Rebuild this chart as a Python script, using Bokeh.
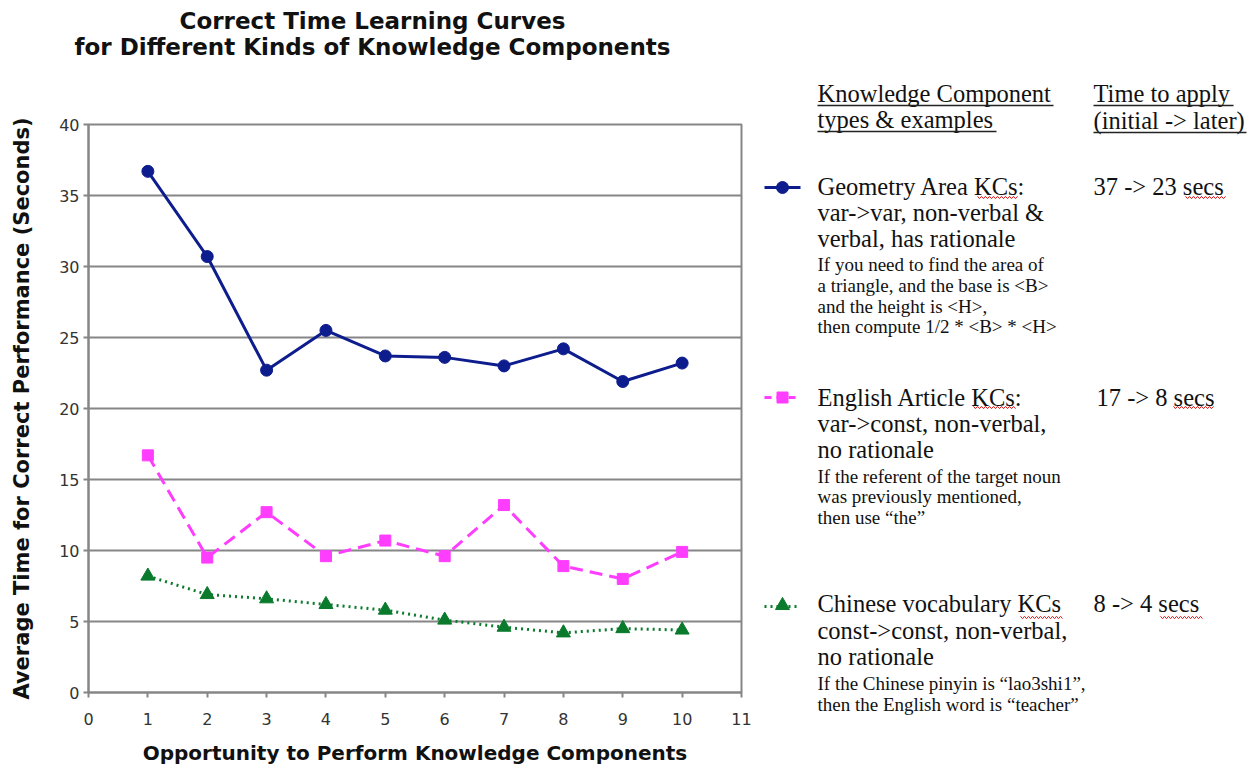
import numpy as np
from bokeh.plotting import figure
from bokeh.layouts import row, column
from bokeh.models import Range1d, FixedTicker
from bokeh.embed import file_html
from bokeh.resources import INLINE
from bokeh.core.properties import value

# ---------------- data ----------------
opportunity = [1, 2, 3, 4, 5, 6, 7, 8, 9, 10]
geometry_area = [36.7, 30.7, 22.7, 25.5, 23.7, 23.6, 23.0, 24.2, 21.9, 23.2]
english_article = [16.7, 9.5, 12.7, 9.6, 10.7, 9.6, 13.2, 8.9, 8.0, 9.9]
chinese_vocab = [8.2, 6.9, 6.6, 6.2, 5.8, 5.1, 4.6, 4.2, 4.5, 4.4]
x_ticks = list(range(0, 12))
y_ticks = list(range(0, 41, 5))

title_lines = ["Correct Time Learning Curves",
               "for Different Kinds of Knowledge Components"]
x_label = "Opportunity to Perform Knowledge Components"
y_label = "Average Time for Correct Performance (Seconds)"

BLUE = "#0d1d8d"
PINK = "#ff3dff"
GREEN = "#0a7a2c"
GRID = "#868686"


def blank_panel(w, h, x0, x1, y0, y1):
    f = figure(width=w, height=h, x_range=Range1d(x0, x1), y_range=Range1d(y1, y0),
               output_backend="svg", toolbar_location=None,
               min_border=0, min_border_left=0, min_border_right=0,
               min_border_top=0, min_border_bottom=0)
    f.axis.visible = False
    f.grid.visible = False
    f.outline_line_color = None
    f.frame_align = False
    return f


# ---------------- title strip ----------------
t = blank_panel(1257, 70, 0, 1257, 0, 70)
t.text(x=[372, 372], y=[20, 46], text=title_lines, text_align="center",
       text_baseline="middle", text_font=value("DejaVu Sans"),
       text_font_style="bold", text_font_size="23px", text_color="#111111")

# ---------------- chart ----------------
p = figure(width=760, height=697, x_range=Range1d(0, 11), y_range=Range1d(0, 40),
           output_backend="svg", toolbar_location=None,
           min_border_left=88, min_border_right=19, min_border_top=54, min_border_bottom=75)
p.frame_align = False
p.xgrid.visible = False
p.ygrid.grid_line_color = GRID
p.ygrid.grid_line_width = 2
p.outline_line_color = GRID
p.outline_line_width = 2
p.xaxis.ticker = FixedTicker(ticks=x_ticks)
p.yaxis.ticker = FixedTicker(ticks=y_ticks)
for ax in (p.xaxis[0], p.yaxis[0]):
    ax.axis_line_color = GRID
    ax.axis_line_width = 2
    ax.major_tick_line_color = GRID
    ax.major_tick_line_width = 2
    ax.major_tick_out = 5
    ax.major_tick_in = 0
    ax.minor_tick_line_color = None
    ax.major_label_text_font = "DejaVu Sans"
    ax.major_label_text_font_size = "16px"
    ax.major_label_text_color = "#333333"
    ax.axis_label_text_font = "DejaVu Sans"
    ax.axis_label_text_font_style = "bold"
    ax.axis_label_text_color = "#111111"
p.xaxis.axis_label = x_label
p.yaxis.axis_label = y_label
p.xaxis.axis_label_text_font_size = "20px"
p.yaxis.axis_label_text_font_size = "21px"
p.xaxis.major_label_standoff = 15
p.xaxis.axis_label_standoff = 13
p.yaxis.major_label_standoff = 4
p.yaxis.axis_label_standoff = 22

p.line(opportunity, geometry_area, color=BLUE, line_width=3)
p.scatter(opportunity, geometry_area, marker="circle", size=12, color=BLUE)
p.line(opportunity, english_article, color=PINK, line_width=3, line_dash="13 7")
p.scatter(opportunity, english_article, marker="square", size=11, color=PINK)
p.line(opportunity, chinese_vocab, color=GREEN, line_width=3, line_dash="2 4")
p.scatter(opportunity, chinese_vocab, marker="triangle", size=14, color=GREEN)

# ---------------- legend / description panel ----------------
q = blank_panel(490, 697, 760, 1250, 70, 767)

SERIF = value("Liberation Serif")
big = [
    (817, 93, "Knowledge Component"),
    (817, 119, "types  & examples"),
    (1093, 93, "Time  to apply"),
    (1093, 120, "(initial -> later)"),
    (817, 186, "Geometry Area KCs:"),
    (817, 212, "var->var, non-verbal &"),
    (817, 238, "verbal, has  rationale"),
    (1093, 186, "37 -> 23 secs"),
    (817, 397, "English Article KCs:"),
    (817, 423, "var->const, non-verbal,"),
    (817, 449, "no rationale"),
    (1096, 397, "17 -> 8 secs"),
    (817, 603, "Chinese vocabulary KCs"),
    (817, 630, "const->const, non-verbal,"),
    (817, 656, "no rationale"),
    (1093, 603, "8 -> 4 secs"),
]
small = [
    (817, 264, "If you need to find the area of"),
    (817, 285, "a triangle, and the base is <B>"),
    (817, 306, "and the height is <H>,"),
    (817, 326, "then compute 1/2 * <B> * <H>"),
    (817, 476, "If the referent of the target noun"),
    (817, 496, "was previously mentioned,"),
    (817, 517, "then use  \u201cthe\u201d"),
    (817, 683, "If the Chinese pinyin is  \u201clao3shi1\u201d,"),
    (817, 704, "then the English word is  \u201cteacher\u201d"),
]
q.text(x=[b[0] for b in big], y=[b[1] for b in big], text=[b[2] for b in big],
       text_font=SERIF, text_font_size="24.5px", text_baseline="middle",
       text_align="left", text_color="#111111")
q.text(x=[s[0] for s in small], y=[s[1] for s in small], text=[s[2] for s in small],
       text_font=SERIF, text_font_size="19px", text_baseline="middle",
       text_align="left", text_color="#111111")

# header underlines
q.segment(x0=[817, 817, 1093, 1093], y0=[105, 131, 105, 132],
          x1=[1053, 996, 1233, 1246], y1=[105, 131, 105, 132],
          line_color="#222222", line_width=1.5)

# spell-check squiggles under "KCs" and "secs"
squiggles = [(977, 1017, 197), (1185, 1225, 197), (973, 1016, 407),
             (1173, 1213, 407), (1020, 1062, 617), (1160, 1202, 617)]
for xa, xb, yy in squiggles:
    xs = np.arange(xa, xb + 0.1, 2.0)
    ys = yy + np.where(np.arange(len(xs)) % 2 == 0, -1.2, 1.2)
    q.line(xs, ys, color="#e02020", line_width=1)

# legend samples
q.line([764, 800], [187, 187], color=BLUE, line_width=3)
q.scatter([782], [187], marker="circle", size=12, color=BLUE)
q.line([764, 800], [397, 397], color=PINK, line_width=3, line_dash="7 5")
q.scatter([782], [397], marker="square", size=11, color=PINK)
q.line([764, 800], [606, 606], color=GREEN, line_width=3, line_dash="2 4")
q.scatter([782], [605], marker="triangle", size=14, color=GREEN)

layout = column(t, row(p, q))
open("out.html", "w").write(file_html(layout, INLINE))
